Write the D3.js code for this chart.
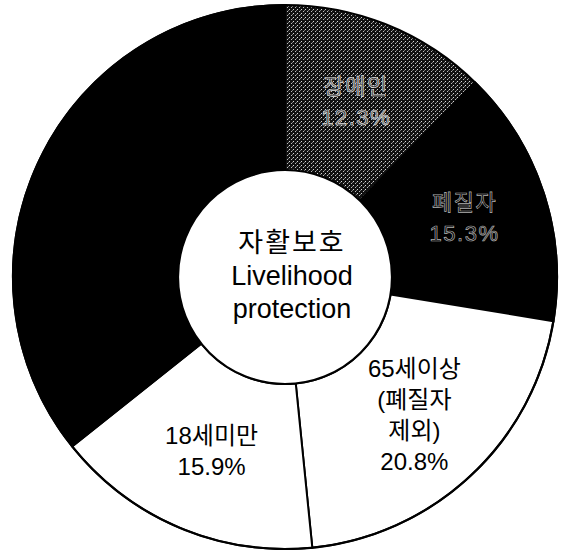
<!DOCTYPE html>
<html>
<head>
<meta charset="utf-8">
<script src="https://cdn.jsdelivr.net/npm/d3@7"></script>
<style>
  html, body { margin: 0; padding: 0; background: #fff; }
  svg { display: block; }
  text { font-family: "Liberation Sans", "Noto Sans CJK KR", sans-serif; }
</style>
</head>
<body>
<script>
// ---- data ----
const categories = ["장애인", "폐질자", "65세이상 (폐질자 제외)", "18세미만", "기타"];
const values = [12.3, 15.3, 20.8, 15.9, 35.7];
const labelLines = [
  ["장애인", "12.3%"],
  ["폐질자", "15.3%"],
  ["65세이상", "(폐질자", "제외)", "20.8%"],
  ["18세미만", "15.9%"],
  []
];
const centerLines = ["자활보호", "Livelihood", "protection"];
const fills = ["url(#dots)", "#000", "#fff", "#fff", "#000"];
const labelStyles = ["hollowDots", "hollowBlack", "plain", "plain", "plain"];

// ---- layout ----
const W = 566, H = 550;
const cx = 285, cy = 277;
const rOuter = 272, rInner = 107, rLabel = 189;

const svg = d3.select("body").append("svg").attr("width", W).attr("height", H);

const defs = svg.append("defs");
const pat = defs.append("pattern").attr("id", "dots")
  .attr("patternUnits", "userSpaceOnUse").attr("width", 4).attr("height", 4);
pat.append("rect").attr("width", 4).attr("height", 4).attr("fill", "#111");
pat.append("rect").attr("x", 0).attr("y", 0).attr("width", 1).attr("height", 1).attr("fill", "#d8d8d8");
pat.append("rect").attr("x", 2).attr("y", 2).attr("width", 1).attr("height", 1).attr("fill", "#bbbbbb");
pat.append("rect").attr("x", 3).attr("y", 1).attr("width", 1).attr("height", 1).attr("fill", "#777");

const g = svg.append("g").attr("transform", `translate(${cx},${cy})`);

const pie = d3.pie().sort(null).value(d => d).startAngle(0).endAngle(2 * Math.PI);
const arcs = pie(values);
const arc = d3.arc().innerRadius(rInner).outerRadius(rOuter);
const labelArc = d3.arc().innerRadius(rLabel).outerRadius(rLabel);

g.selectAll("path.slice").data(arcs).enter().append("path")
  .attr("class", "slice")
  .attr("d", arc)
  .attr("fill", (d, i) => fills[i])
  .attr("stroke", (d, i) => i === 0 ? "#cfcfcf" : "#000")
  .attr("stroke-width", (d, i) => i === 0 ? 1 : 2)
  .attr("stroke-dasharray", (d, i) => i === 0 ? "1.5,1.5" : null);

// outer and inner outlines
g.append("circle").attr("r", rOuter).attr("fill", "none").attr("stroke", "#000").attr("stroke-width", 2.2);
g.append("circle").attr("r", rInner).attr("fill", "#fff").attr("stroke", "#000").attr("stroke-width", 2.2);

// slice labels
const lh = 31;
arcs.forEach((a, i) => {
  const lines = labelLines[i];
  if (!lines.length) return;
  const [x, y] = labelArc.centroid(a);
  const t = g.append("text")
    .attr("text-anchor", "middle")
    .attr("font-size", i < 2 ? 22 : 24);
  const style = labelStyles[i];
  if (style === "hollowDots") {
    t.attr("fill", "#333").attr("stroke", "#e0e0e0").attr("stroke-width", 0.7)
     .attr("letter-spacing", 1.5);
  } else if (style === "hollowBlack") {
    t.attr("fill", "#000").attr("stroke", "#b0b0b0").attr("stroke-width", 0.7)
     .attr("letter-spacing", 1.5);
  } else {
    t.attr("fill", "#000");
  }
  const n = lines.length;
  lines.forEach((s, k) => {
    t.append("tspan")
      .attr("x", x)
      .attr("y", y + (k - (n - 1) / 2) * lh)
      .attr("dy", "0.35em")
      .text(s);
  });
});

// center label
const ct = g.append("text").attr("text-anchor", "middle").attr("font-size", 27).attr("fill", "#000");
centerLines.forEach((s, k) => {
  ct.append("tspan")
    .attr("x", 7)
    .attr("y", (k - 1) * 33 - 1)
    .attr("dy", "0.35em")
    .attr("letter-spacing", k === 0 ? 2 : 0)
    .text(s);
});
</script>
</body>
</html>
